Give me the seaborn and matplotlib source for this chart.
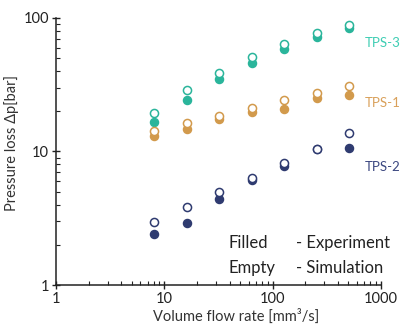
import matplotlib
matplotlib.use("Agg")
import matplotlib.pyplot as plt
import seaborn as sns
import pandas as pd
from matplotlib.ticker import LogLocator, FixedLocator, FixedFormatter, NullFormatter

flow = [8, 16, 32, 64, 128, 256, 512]

tps3_exp = [16.6, 24.3, 34.9, 45.8, 58.2, 71.3, 84.6]
tps3_sim = [19.5, 29.0, 38.9, 51.0, 63.5, 76.8, 88.1]
tps1_exp = [13.1, 14.8, 17.4, 19.7, 20.9, 25.3, 26.6]
tps1_sim = [14.3, 16.4, 18.5, 21.2, 24.2, 27.6, 30.8]
tps2_exp = [2.40, 2.91, 4.43, 6.15, 7.74, 10.4, 10.7]
tps2_sim = [2.95, 3.82, 4.97, 6.30, 8.25, 10.4, 13.7]

series = ["TPS-3", "TPS-1", "TPS-2"]
colors = {"TPS-3": "#2ab59b", "TPS-1": "#d29a4c", "TPS-2": "#2f3b70"}
label_colors = {"TPS-3": "#3ecdb3", "TPS-1": "#d9a05a", "TPS-2": "#3b4780"}

rows = []
for name, exp, sim in [("TPS-3", tps3_exp, tps3_sim),
                       ("TPS-1", tps1_exp, tps1_sim),
                       ("TPS-2", tps2_exp, tps2_sim)]:
    for q, e, s in zip(flow, exp, sim):
        rows.append({"series": name, "flow": q, "value": e, "kind": "Experiment"})
        rows.append({"series": name, "flow": q, "value": s, "kind": "Simulation"})
df = pd.DataFrame(rows)

sns.set_style("ticks")
plt.rcParams['font.family'] = ['Lato', 'DejaVu Sans']

fig = plt.figure(figsize=(4.01, 3.25), dpi=100)
ax = fig.add_axes([0.14, 0.123, 0.81, 0.822])

for name in series:
    sub = df[df["series"] == name]
    exp = sub[sub["kind"] == "Experiment"]
    sim = sub[sub["kind"] == "Simulation"]
    sns.scatterplot(data=exp, x="flow", y="value", ax=ax, color=colors[name],
                    s=34, edgecolor=colors[name], linewidth=1.0, zorder=3, legend=False)
    sns.scatterplot(data=sim, x="flow", y="value", ax=ax, facecolor="white",
                    edgecolor=colors[name], s=34, linewidth=1.1, zorder=4, legend=False)

ax.set_xscale("log")
ax.set_yscale("log")
ax.set_xlim(1, 1000)
ax.set_ylim(1, 100)

ax.xaxis.set_major_locator(FixedLocator([1, 10, 100, 1000]))
ax.xaxis.set_major_formatter(FixedFormatter(["1", "10", "100", "1000"]))
ax.yaxis.set_major_locator(FixedLocator([1, 10, 100]))
ax.yaxis.set_major_formatter(FixedFormatter(["1", "10", "100"]))
ax.xaxis.set_minor_locator(LogLocator(base=10, subs=range(2, 10)))
ax.yaxis.set_minor_locator(LogLocator(base=10, subs=range(2, 10)))
ax.xaxis.set_minor_formatter(NullFormatter())
ax.yaxis.set_minor_formatter(NullFormatter())

ax.tick_params(which="major", direction="inout", length=6, width=1, labelsize=10.5,
               color="#222222", labelcolor="#222222", pad=2)
ax.tick_params(which="minor", direction="in", length=3, width=0.8, color="#222222")

for side in ["top", "right"]:
    ax.spines[side].set_visible(False)
for side in ["left", "bottom"]:
    ax.spines[side].set_linewidth(1.1)
    ax.spines[side].set_color("#222222")

ax.set_xlabel("Volume flow rate [mm\u00b3/s]", fontsize=10.5, color="#333333")
ax.xaxis.set_label_coords(0.554, -0.09)
ax.set_ylabel("Pressure loss \u0394p[bar]", fontsize=10.5, color="#333333")
ax.yaxis.set_label_coords(-0.115, 0.53)

label_pos = {"TPS-3": 43, "TPS-1": 103, "TPS-2": 167}
for name in series:
    fig.text(365 / 401, 1 - label_pos[name] / 325, name, color=label_colors[name],
             fontsize=9.5, va="center", ha="left")

fig.text(228 / 401, 1 - 243 / 325, "Filled", fontsize=12, color="#222222", va="center")
fig.text(296 / 401, 1 - 243 / 325, "- Experiment", fontsize=12, color="#222222", va="center")
fig.text(228 / 401, 1 - 268 / 325, "Empty", fontsize=12, color="#222222", va="center")
fig.text(296 / 401, 1 - 268 / 325, "- Simulation", fontsize=12, color="#222222", va="center")

fig.savefig("out.png", dpi=100)
